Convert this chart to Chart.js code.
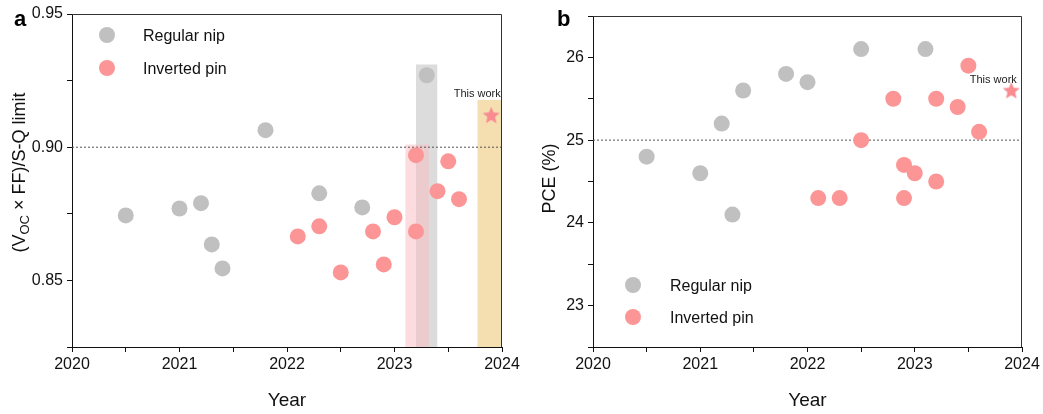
<!DOCTYPE html>
<html>
<head>
<meta charset="utf-8">
<script src="https://cdn.jsdelivr.net/npm/chart.js@4.4.1/dist/chart.umd.min.js"></script>
<style>
  body { margin: 0; background: #fff; }
  #wrap { position: relative; width: 1043px; height: 414px; }
  .panel { position: absolute; top: 0; height: 414px; }
</style>
</head>
<body>
<div id="wrap">
  <div class="panel" style="left:0;width:521px"><canvas id="chartA" width="521" height="414"></canvas></div>
  <div class="panel" style="left:521px;width:522px"><canvas id="chartB" width="522" height="414"></canvas></div>
</div>
<script>
// ---- panel a: (Voc x FF)/S-Q limit ----
const yearsNipA = [2020.5, 2021.0, 2021.2, 2021.3, 2021.4, 2021.8, 2022.3, 2022.7, 2023.3]
const ratioNipA = [0.8744, 0.877, 0.879, 0.8635, 0.8545, 0.9064, 0.8827, 0.8774, 0.927]
const yearsPinA = [2022.1, 2022.3, 2022.5, 2022.8, 2022.9, 2023.0, 2023.2, 2023.2, 2023.4, 2023.5, 2023.6]
const ratioPinA = [0.8665, 0.8703, 0.853, 0.8684, 0.856, 0.8737, 0.897, 0.8684, 0.8835, 0.8947, 0.8805]
const thisWorkA = { x: 2023.9, y: 0.912 }
const refLineA = 0.90
const bandStartA = [2023.1, 2023.2, 2023.77]
const bandEndA = [2023.32, 2023.4, 2024.0]
const bandTopA = [0.901, 0.931, 0.9177]

// ---- panel b: PCE ----
const yearsNipB = [2020.5, 2021.0, 2021.2, 2021.3, 2021.4, 2021.8, 2022.0, 2022.5, 2023.1]
const pceNipB = [24.8, 24.6, 25.2, 24.1, 25.6, 25.8, 25.7, 26.1, 26.1]
const yearsPinB = [2022.1, 2022.3, 2022.5, 2022.8, 2022.9, 2022.9, 2023.0, 2023.2, 2023.2, 2023.4, 2023.5, 2023.6]
const pcePinB = [24.3, 24.3, 25.0, 25.5, 24.7, 24.3, 24.6, 25.5, 24.5, 25.4, 25.9, 25.1]
const thisWorkB = { x: 2023.9, y: 25.6 }
const refLineB = 25.0

const yearTicks = [2020, 2021, 2022, 2023, 2024]
const seriesLabels = ['Regular nip', 'Inverted pin']
const noteLabel = 'This work'

const ff = "'Liberation Sans', Arial, Helvetica, sans-serif"
const grayDot = 'rgb(192,192,192)'
const redDot = 'rgb(252,150,150)'
const bandColors = ['rgba(250,185,190,0.5)', '#dcdcdc', '#f5dfb1']
const bandOrders = [2, 3, 3]

const toPoints = (xs, ys) => xs.map((x, i) => ({ x, y: ys[i] }))

function makeStar(color, r) {
  const size = Math.ceil(r * 2) + 2
  const c = document.createElement('canvas')
  c.width = size
  c.height = size
  const g = c.getContext('2d')
  g.beginPath()
  for (let i = 0; i < 10; i++) {
    const rad = i % 2 === 0 ? r : r * 0.45
    const a = -Math.PI / 2 + i * Math.PI / 5
    g.lineTo(size / 2 + rad * Math.cos(a), size / 2 + 0.6 + rad * Math.sin(a))
  }
  g.closePath()
  g.fillStyle = color
  g.fill()
  return c
}
const starImg = makeStar('rgb(248,140,145)', 9)

// frame, legend, notes, axis title, panel letter
const decorPlugin = {
  id: 'decor',
  afterDraw(chart, args, o) {
    const { ctx, chartArea: a } = chart
    ctx.save()
    ctx.strokeStyle = '#333'
    ctx.lineWidth = 1
    ctx.beginPath()
    ctx.moveTo(a.left, a.top + 0.5)
    ctx.lineTo(a.right - 0.5, a.top + 0.5)
    ctx.lineTo(a.right - 0.5, a.bottom)
    ctx.stroke()

    // legend
    ctx.font = '16px ' + ff
    ctx.textBaseline = 'middle'
    ctx.textAlign = 'left'
    chart.data.datasets.slice(0, 2).forEach((ds, i) => {
      const y = o.legendY + i * o.legendDy
      ctx.fillStyle = ds.backgroundColor
      ctx.beginPath()
      ctx.arc(o.legendX, y, 8, 0, Math.PI * 2)
      ctx.fill()
      ctx.fillStyle = '#111'
      ctx.fillText(ds.label, o.legendTextX, y + 2)
    })

    // "This work"
    const star = chart.data.datasets[2].data[0]
    const sx = chart.scales.x.getPixelForValue(star.x)
    const sy = chart.scales.y.getPixelForValue(star.y)
    ctx.font = '11px ' + ff
    ctx.fillStyle = '#222'
    ctx.textAlign = 'center'
    ctx.fillText(noteLabel, sx + o.noteDx, sy + o.noteDy)

    // y title (with subscript)
    const cy = (a.top + a.bottom) / 2 + o.titleDy
    ctx.translate(o.titleX, cy)
    ctx.rotate(-Math.PI / 2)
    const big = '18px ' + ff
    const small = '13px ' + ff
    let total = 0
    o.titleParts.forEach(p => { ctx.font = p.sub ? small : big; total += ctx.measureText(p.t).width })
    let x = -total / 2
    ctx.textAlign = 'left'
    ctx.fillStyle = '#111'
    o.titleParts.forEach(p => {
      ctx.font = p.sub ? small : big
      ctx.fillText(p.t, x, p.sub ? 5 : 0)
      x += ctx.measureText(p.t).width
    })
    ctx.setTransform(1, 0, 0, 1, 0, 0)

    // panel letter
    ctx.font = 'bold 22px ' + ff
    ctx.textAlign = 'left'
    ctx.textBaseline = 'alphabetic'
    ctx.fillStyle = '#000'
    ctx.fillText(o.letter, o.letterX, 26)
    ctx.restore()
  }
}

function buildChart(id, p) {
  const datasets = [
    { label: seriesLabels[0], data: toPoints(p.nipX, p.nipY), backgroundColor: grayDot, borderWidth: 0, pointRadius: 8, order: 0 },
    { label: seriesLabels[1], data: toPoints(p.pinX, p.pinY), backgroundColor: redDot, borderWidth: 0, pointRadius: 8, order: 0 },
    { label: noteLabel, data: [p.star], pointStyle: starImg, order: 0 },
    {
      type: 'line', label: 'ref',
      data: [{ x: yearTicks[0], y: p.ref }, { x: yearTicks[yearTicks.length - 1], y: p.ref }],
      borderColor: '#555', borderWidth: 1, borderDash: [2, 2], pointRadius: 0, fill: false, order: 1
    }
  ]
  p.bands.forEach((b, i) => {
    datasets.push({
      type: 'line', label: 'band' + i,
      data: [{ x: b.x0, y: b.top }, { x: b.x1, y: b.top }],
      borderWidth: 0, pointRadius: 0, fill: 'start', tension: 0,
      backgroundColor: bandColors[i], order: bandOrders[i]
    })
  })

  return new Chart(document.getElementById(id), {
    type: 'scatter',
    data: { datasets },
    options: {
      responsive: false,
      animation: false,
      events: [],
      layout: { padding: { top: p.top, right: p.right, left: 0, bottom: 0 } },
      scales: {
        x: {
          type: 'linear', min: 2020, max: 2024,
          afterFit: s => { s.height = 67; s.paddingLeft = 0; s.paddingRight = 0 },
          border: { display: true, color: '#111', width: 1 },
          grid: { drawOnChartArea: false, drawTicks: true, tickLength: 5, color: '#111' },
          ticks: {
            stepSize: 0.5, autoSkip: false, maxRotation: 0, padding: 3,
            color: '#111', font: { family: ff, size: 16 },
            callback: v => Number.isInteger(v) ? String(v) : ''
          },
          title: { display: true, text: 'Year', color: '#111', font: { family: ff, size: 19 }, padding: { top: 0, bottom: 2 } }
        },
        y: {
          min: p.yMin, max: p.yMax,
          afterFit: s => { s.width = 72 },
          border: { display: true, color: '#111', width: 1 },
          grid: { drawOnChartArea: false, drawTicks: true, tickLength: 5, color: '#111' },
          ticks: {
            stepSize: p.yStep, autoSkip: false, padding: 4,
            color: '#111', font: { family: ff, size: 16 },
            callback: p.yLabel
          }
        }
      },
      plugins: {
        legend: { display: false },
        tooltip: { enabled: false },
        decor: p.decor
      }
    },
    plugins: [decorPlugin]
  })
}

buildChart('chartA', {
  nipX: yearsNipA, nipY: ratioNipA, pinX: yearsPinA, pinY: ratioPinA,
  star: thisWorkA, ref: refLineA,
  bands: bandStartA.map((x0, i) => ({ x0, x1: bandEndA[i], top: bandTopA[i] })),
  yMin: 0.825, yMax: 0.95, yStep: 0.025,
  yLabel: v => Math.abs(v * 20 - Math.round(v * 20)) < 1e-6 ? v.toFixed(2) : '',
  top: 14, right: 19,
  decor: {
    legendX: 107, legendY: 35, legendDy: 33, legendTextX: 143,
    noteDx: -14, noteDy: -21,
    titleX: 20, titleDy: -8,
    titleParts: [{ t: '(V' }, { t: 'OC', sub: true }, { t: ' \u00d7 FF)/S-Q limit' }],
    letter: 'a', letterX: 14
  }
})

buildChart('chartB', {
  nipX: yearsNipB, nipY: pceNipB, pinX: yearsPinB, pinY: pcePinB,
  star: thisWorkB, ref: refLineB,
  bands: [],
  yMin: 22.5, yMax: 26.5, yStep: 0.5,
  yLabel: v => Number.isInteger(v) ? String(v) : '',
  top: 16, right: 21,
  decor: {
    legendX: 112, legendY: 285, legendDy: 32, legendTextX: 149,
    noteDx: -18, noteDy: -11,
    titleX: 29, titleDy: -3,
    titleParts: [{ t: 'PCE (%)' }],
    letter: 'b', letterX: 36
  }
})
</script>
</body>
</html>
